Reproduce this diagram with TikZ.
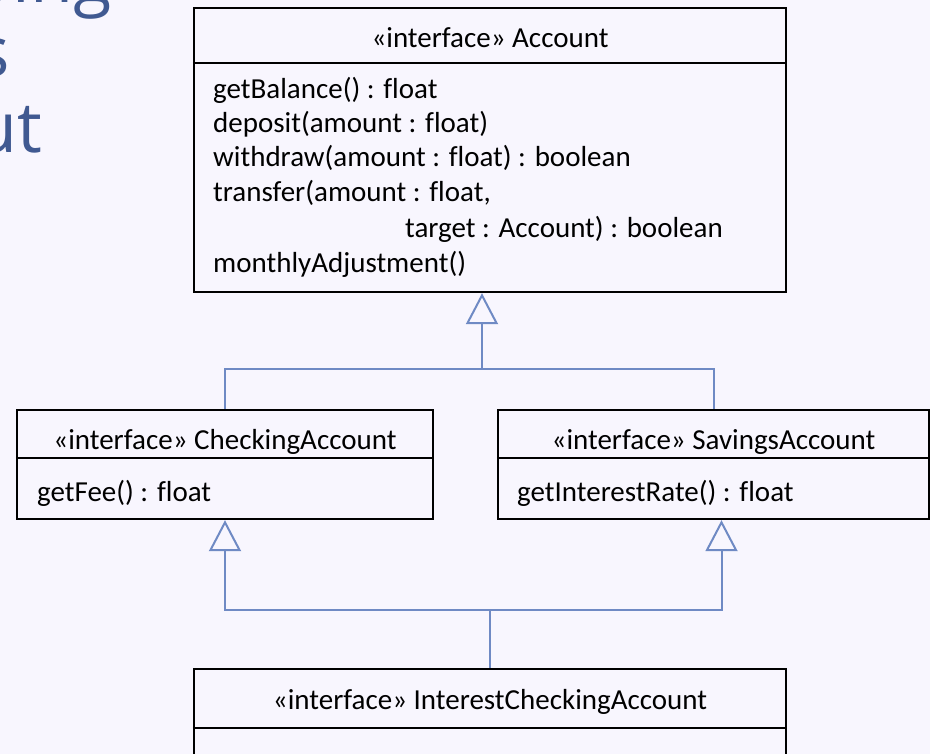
\documentclass[tikz,border=0pt]{standalone}
\usepackage{fontspec}
\setmainfont{Carlito}[Ligatures=NoCommon]
\newfontfamily\titlefont{Open Sans}
\usetikzlibrary{arrows.meta,positioning}
\definecolor{bgcol}{RGB}{248,246,254}
\definecolor{linkcol}{RGB}{111,138,196}
\definecolor{titlecol}{RGB}{64,89,145}
\tikzset{
  umlbox/.style={draw=black,line width=2.4pt,rectangle,inner sep=0pt},
  umlhead/.style={font=\fontsize{29}{34}\selectfont,anchor=base,inner sep=0pt},
  umlop/.style={font=\fontsize{29}{34}\selectfont,anchor=base west,inner sep=0pt},
  umlsep/.style={draw=black,line width=2pt},
  link/.style={draw=linkcol,line width=2pt},
  inherit/.style={link,-{Triangle[open,length=31pt,width=32pt,line width=2pt]}},
  bigtitle/.style={font=\titlefont\fontsize{70}{76}\selectfont,text=titlecol,anchor=base east,inner sep=0pt}
}
\begin{document}
\begin{tikzpicture}[x=1pt,y=1pt]
\fill[bgcol] (0,0) rectangle (930,-754);
\useasboundingbox (0,0) rectangle (930,-754);
\clip (0,0) rectangle (930,-754);
% slide title, cut by the picture edge
\node[bigtitle] (t1) at (112,-3) {oing};
\node[bigtitle] (t2) at (10,-77) {s};
\node[bigtitle] (t3) at (42,-153) {ut};

% Account
\node[umlbox,minimum width=592pt,minimum height=284pt] (acc) at (490,-150) {};
\draw[umlsep] (acc.west |- 0,-63) -- (acc.east |- 0,-63);
\node[umlhead] (acchead) at (490,-48) {«interface» Account};
\node[umlop] (op1) at (213,-99) {getBalance() : float};
\node[umlop] (op2) at (213,-133) {deposit(amount : float)};
\node[umlop] (op3) at (213,-167) {withdraw(amount : float) : boolean};
\node[umlop] (op4) at (213,-202) {transfer(amount : float,};
\node[umlop] (op5) at (405,-238) {target : Account) : boolean};
\node[umlop] (op6) at (213,-273) {monthlyAdjustment()};

% CheckingAccount
\node[umlbox,minimum width=416pt,minimum height=109pt] (chk) at (225,-464.5) {};
\draw[umlsep] (chk.west |- 0,-458) -- (chk.east |- 0,-458);
\node[umlhead] (chkhead) at (225,-449) {«interface» CheckingAccount};
\node[umlop] (chkop) at (37,-501) {getFee() : float};

% SavingsAccount
\node[umlbox,minimum width=431pt,minimum height=109pt] (sav) at (713.5,-464.5) {};
\draw[umlsep] (sav.west |- 0,-458) -- (sav.east |- 0,-458);
\node[umlhead] (savhead) at (713.5,-449) {«interface» SavingsAccount};
\node[umlop] (savop) at (517,-501) {getInterestRate() : float};

% InterestCheckingAccount
\node[umlbox,minimum width=592pt,minimum height=110pt] (ick) at (490,-724) {};
\draw[umlsep] (ick.west |- 0,-728) -- (ick.east |- 0,-728);
\node[umlhead] (ickhead) at (490,-709) {«interface» InterestCheckingAccount};

% Arrows
\coordinate (join1) at (482,-369);
\coordinate (join2) at (490,-610);
\draw[link] (chk.north) |- (join1) -| (sav.north);
\draw[inherit] (join1) -- ([xshift=-8pt]acc.south);
\draw[link] (ick.north) -- (join2);
\draw[inherit] (join2) -| (chk.south);
\draw[inherit] (join2) -| ([xshift=8pt]sav.south);
\end{tikzpicture}
\end{document}
